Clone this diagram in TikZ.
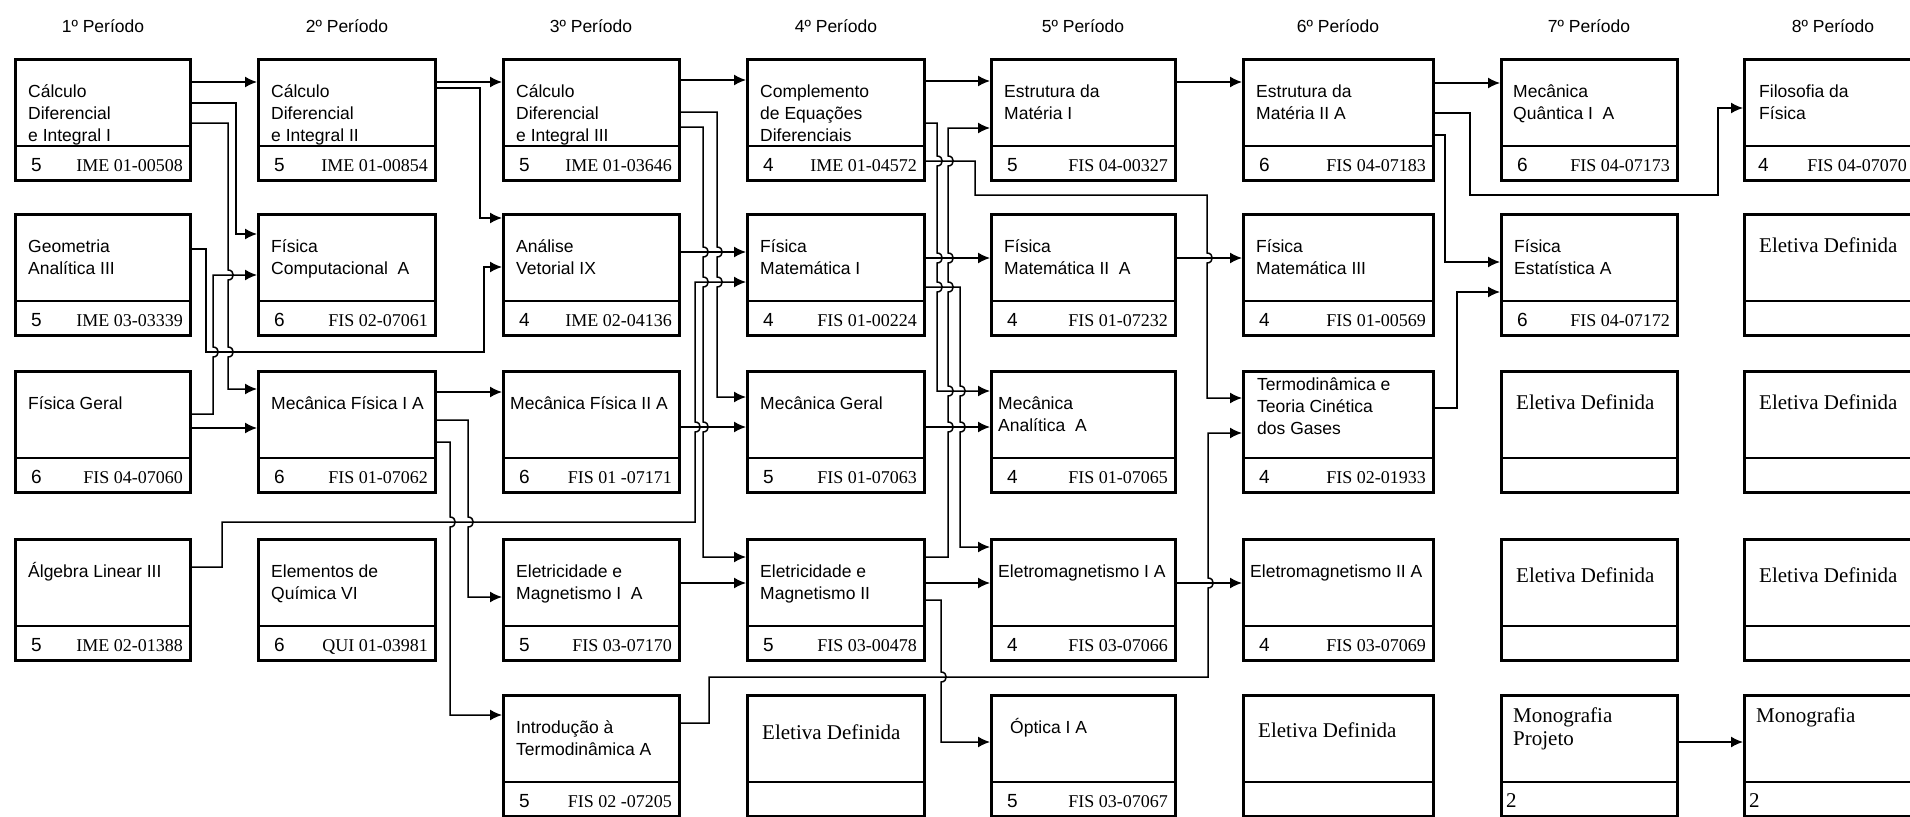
\documentclass[tikz,border=0pt]{standalone}
\usepackage{fontspec}
\usepackage{tikz}
\usetikzlibrary{arrows.meta}
\newfontfamily\sansf{Liberation Sans}
\newfontfamily\seriff{Liberation Serif}
\newcommand{\linha}{\rule{0pt}{16pt}}
\newcommand{\disciplina}[8][14]{%
  \node[caixa, minimum width=#5pt-3pt] (#2) at (#3,#4) {};
  \draw[divisao] (#2.west |- 0,#4+88) -- (#2.east |- 0,#4+88);
  \node[nome] (#2-nome) at (#3+#1,#4+23) {\linha #6};
  \node[creditos] (#2-cr) at (#3+17,#4+113) {#7};
  \node[codigo] (#2-cod) at (#3+#5-9,#4+113) {#8};
}
\newcommand{\eletiva}[5]{%
  \node[caixa, minimum width=#4pt-3pt] (#1) at (#2,#3) {};
  \draw[divisao] (#1.west |- 0,#3+88) -- (#1.east |- 0,#3+88);
  \node[eletivatxt] (#1-nome) at (#2+16,#3+#5) {Eletiva Definida};
}
\newcommand{\saltodesce}[2]{-- (#1,#2-5) .. controls (#1+7,#2-5) and (#1+7,#2+5) .. (#1,#2+5)}
\newcommand{\saltosobe}[2]{-- (#1,#2+5) .. controls (#1+7,#2+5) and (#1+7,#2-5) .. (#1,#2-5)}

\begin{document}
\begin{tikzpicture}[x=1pt,y=-1pt,
    caixa/.style={draw, line width=3pt, inner sep=0pt, anchor=north west, minimum height=121pt},
    divisao/.style={line width=2.5pt},
    nome/.style={anchor=north west, align=left, inner sep=0pt, font=\sansf\fontsize{17.5}{22}\selectfont},
    creditos/.style={anchor=base west, inner sep=0pt, font=\sansf\fontsize{19}{22}\selectfont},
    codigo/.style={anchor=base east, inner sep=0pt, font=\seriff\fontsize{18}{22}\selectfont},
    eletivatxt/.style={anchor=base west, inner sep=0pt, font=\seriff\fontsize{21}{23}\selectfont},
    periodo/.style={inner sep=0pt, font=\sansf\fontsize{17.5}{20}\selectfont},
    seta/.style={line width=1.5pt, -{Latex[length=12pt,width=11pt]}}]
    \fill[white] (0,0) rectangle (1910,816);
    \useasboundingbox (0,0) rectangle (1910,816);

    \node[periodo] (p1) at (103,26) {1º Período};
    \node[periodo] (p2) at (347,26) {2º Período};
    \node[periodo] (p3) at (591,26) {3º Período};
    \node[periodo] (p4) at (836,26) {4º Período};
    \node[periodo] (p5) at (1083,26) {5º Período};
    \node[periodo] (p6) at (1338,26) {6º Período};
    \node[periodo] (p7) at (1589,26) {7º Período};
    \node[periodo] (p8) at (1833,26) {8º Período};

    \disciplina{calcI}{14}{58}{178}{Cálculo\\Diferencial\\e Integral I}{5}{IME 01-00508}
    \disciplina{geoan}{14}{213}{178}{Geometria\\Analítica III}{5}{IME 03-03339}
    \disciplina{fisger}{14}{370}{178}{Física Geral}{6}{FIS 04-07060}
    \disciplina{alglin}{14}{538}{178}{Álgebra Linear III}{5}{IME 02-01388}

    \disciplina{calcII}{257}{58}{180}{Cálculo\\Diferencial\\e Integral II}{5}{IME 01-00854}
    \disciplina{fiscomp}{257}{213}{180}{Física\\Computacional~ A}{6}{FIS 02-07061}
    \disciplina{mecfisI}{257}{370}{180}{Mecânica Física I A}{6}{FIS 01-07062}
    \disciplina{quim}{257}{538}{180}{Elementos de\\Química VI}{6}{QUI 01-03981}

    \disciplina{calcIII}{502}{58}{179}{Cálculo\\Diferencial\\e Integral III}{5}{IME 01-03646}
    \disciplina{analvet}{502}{213}{179}{Análise\\Vetorial IX}{4}{IME 02-04136}
    \disciplina[8]{mecfisII}{502}{370}{179}{Mecânica Física II A}{6}{FIS 01 -07171}
    \disciplina{eletmagI}{502}{538}{179}{Eletricidade e\\Magnetismo I~ A}{5}{FIS 03-07170}
    \disciplina{introtermo}{502}{694}{179}{Introdução à\\Termodinâmica A}{5}{FIS 02 -07205}

    \disciplina{compeq}{746}{58}{180}{Complemento\\de Equações\\Diferenciais}{4}{IME 01-04572}
    \disciplina{fismatI}{746}{213}{180}{Física\\Matemática I}{4}{FIS 01-00224}
    \disciplina{mecger}{746}{370}{180}{Mecânica Geral}{5}{FIS 01-07063}
    \disciplina{eletmagII}{746}{538}{180}{Eletricidade e\\Magnetismo II}{5}{FIS 03-00478}
    \eletiva{eletA}{746}{694}{180}{45}

    \disciplina{estmatI}{990}{58}{187}{Estrutura da\\Matéria I}{5}{FIS 04-00327}
    \disciplina{fismatII}{990}{213}{187}{Física\\Matemática II~ A}{4}{FIS 01-07232}
    \disciplina[8]{mecanal}{990}{370}{187}{Mecânica\\Analítica~ A}{4}{FIS 01-07065}
    \disciplina[8]{eletromI}{990}{538}{187}{Eletromagnetismo I A}{4}{FIS 03-07066}
    \disciplina[20]{optica}{990}{694}{187}{Óptica I A}{5}{FIS 03-07067}

    \disciplina{estmatII}{1242}{58}{193}{Estrutura da\\Matéria II A}{6}{FIS 04-07183}
    \disciplina{fismatIII}{1242}{213}{193}{Física\\Matemática III}{4}{FIS 01-00569}
    \node[caixa, minimum width=190pt] (termo) at (1242,370) {};
    \draw[divisao] (termo.west |- 0,458) -- (termo.east |- 0,458);
    \node[nome] (termo-nome) at (1257,374) {\linha Termodinâmica e\\Teoria Cinética\\dos Gases};
    \node[creditos] (termo-cr) at (1259,483) {4};
    \node[codigo] (termo-cod) at (1426,483) {FIS 02-01933};
    \disciplina[8]{eletromII}{1242}{538}{193}{Eletromagnetismo II A}{4}{FIS 03-07069}
    \eletiva{eletB}{1242}{694}{193}{43}

    \disciplina[13]{mecquant}{1500}{58}{179}{Mecânica\\Quântica I~ A}{6}{FIS 04-07173}
    \disciplina{fisest}{1500}{213}{179}{Física\\Estatística A}{6}{FIS 04-07172}
    \eletiva{eletC}{1500}{370}{179}{39}
    \eletiva{eletD}{1500}{538}{179}{44}
    \node[caixa, minimum width=176pt] (monoproj) at (1500,694) {};
    \draw[divisao] (monoproj.west |- 0,782) -- (monoproj.east |- 0,782);
    \node[eletivatxt, anchor=north west, align=left] (monoproj-nome) at (1513,705) {\rule{0pt}{17pt}Monografia\\Projeto};
    \node[eletivatxt] (monoproj-cr) at (1506,807) {2};

    \node[caixa, minimum width=177pt] (filos) at (1743,58) {};
    \draw[divisao] (filos.west |- 0,146) -- (filos.east |- 0,146);
    \node[nome] (filos-nome) at (1759,81) {\linha Filosofia da\\Física};
    \node[creditos] (filos-cr) at (1758,171) {4};
    \node[codigo] (filos-cod) at (1907,171) {FIS 04-07070};
    \eletiva{eletE}{1743}{213}{180}{39}
    \eletiva{eletF}{1743}{370}{180}{39}
    \eletiva{eletG}{1743}{538}{180}{44}
    \node[caixa, minimum width=177pt] (mono) at (1743,694) {};
    \draw[divisao] (mono.west |- 0,782) -- (mono.east |- 0,782);
    \node[eletivatxt, anchor=north west, align=left] (mono-nome) at (1756,705) {\rule{0pt}{17pt}Monografia};
    \node[eletivatxt] (mono-cr) at (1749,807) {2};

    \draw[seta] (calcI.east |- 0,82) -- (calcII.west |- 0,82);
    \draw[seta] (calcI.east |- 0,103) -| (236,234) -- (fiscomp.west |- 0,234);
    \draw[seta] (calcI.east |- 0,123) -- (228,123) \saltodesce{228}{275} \saltodesce{228}{352} -- (228,389) -- (mecfisI.west |- 0,389);
    \draw[seta] (geoan.east |- 0,249) -| (206,352) -| (484,267) -- (analvet.west |- 0,267);
    \draw[seta] (fisger.east |- 0,414) -- (213,414) \saltosobe{213}{352} -- (213,275) -- (fiscomp.west |- 0,275);
    \draw[seta] (fisger.east |- 0,428) -- (mecfisI.west |- 0,428);
    \draw[seta] (alglin.east |- 0,567) -| (222,522) -- (695,522) \saltosobe{695}{427} -- (695,282) -- (fismatI.west |- 0,282);

    \draw[seta] (calcII.east |- 0,82) -- (calcIII.west |- 0,82);
    \draw[seta] (calcII.east |- 0,88) -| (480,218) -- (analvet.west |- 0,218);
    \draw[seta] (mecfisI.east |- 0,392) -- (mecfisII.west |- 0,392);
    \draw[seta] (mecfisI.east |- 0,420) -- (468,420) \saltodesce{468}{522} -- (468,597) -- (eletmagI.west |- 0,597);
    \draw[seta] (mecfisI.east |- 0,442) -- (450,442) \saltodesce{450}{522} -- (450,715) -- (introtermo.west |- 0,715);

    \draw[seta] (calcIII.east |- 0,80) -- (compeq.west |- 0,80);
    \draw[seta] (calcIII.east |- 0,112) -- (717,112) \saltodesce{717}{252} \saltodesce{717}{282} -- (717,397) -- (mecger.west |- 0,397);
    \draw[seta] (calcIII.east |- 0,127) -- (703,127) \saltodesce{703}{252} \saltodesce{703}{282} \saltodesce{703}{427} -- (703,557) -- (eletmagII.west |- 0,557);
    \draw[seta] (analvet.east |- 0,252) -- (fismatI.west |- 0,252);
    \draw[seta] (mecfisII.east |- 0,427) -- (mecger.west |- 0,427);
    \draw[seta] (eletmagI.east |- 0,583) -- (eletmagII.west |- 0,583);
    \draw[seta] (introtermo.east |- 0,723) -| (709,677) -- (1208,677) \saltosobe{1208}{583} -- (1208,433) -- (termo.west |- 0,433);

    \draw[seta] (compeq.east |- 0,81) -- (estmatI.west |- 0,81);
    \draw[seta] (compeq.east |- 0,123) -- (937,123) \saltodesce{937}{161} \saltodesce{937}{258} \saltodesce{937}{287} -- (937,391) -- (mecanal.west |- 0,391);
    \draw[seta] (compeq.east |- 0,161) -| (975,195) -- (1207,195) \saltodesce{1207}{258} -- (1207,398) -- (termo.west |- 0,398);
    \draw[seta] (eletmagII.east |- 0,557) -- (948,557) \saltosobe{948}{427} \saltosobe{948}{391} \saltosobe{948}{287} \saltosobe{948}{258} \saltosobe{948}{161} -- (948,128) -- (estmatI.west |- 0,128);
    \draw[seta] (fismatI.east |- 0,258) -- (fismatII.west |- 0,258);
    \draw[seta] (fismatI.east |- 0,287) -- (960,287) \saltodesce{960}{391} \saltodesce{960}{427} -- (960,547) -- (eletromI.west |- 0,547);
    \draw[seta] (mecger.east |- 0,427) -- (mecanal.west |- 0,427);
    \draw[seta] (eletmagII.east |- 0,583) -- (eletromI.west |- 0,583);
    \draw[seta] (eletmagII.east |- 0,600) -- (941,600) \saltodesce{941}{677} -- (941,742) -- (optica.west |- 0,742);

    \draw[seta] (estmatI.east |- 0,82) -- (estmatII.west |- 0,82);
    \draw[seta] (fismatII.east |- 0,258) -- (fismatIII.west |- 0,258);
    \draw[seta] (eletromI.east |- 0,583) -- (eletromII.west |- 0,583);

    \draw[seta] (estmatII.east |- 0,83) -- (mecquant.west |- 0,83);
    \draw[seta] (estmatII.east |- 0,113) -| (1470,195) -| (1718,108) -- (filos.west |- 0,108);
    \draw[seta] (estmatII.east |- 0,135) -| (1445,262) -- (fisest.west |- 0,262);
    \draw[seta] (termo.east |- 0,408) -| (1457,292) -- (fisest.west |- 0,292);

    \draw[seta] (monoproj.east |- 0,742) -- (mono.west |- 0,742);
\end{tikzpicture}
\end{document}
